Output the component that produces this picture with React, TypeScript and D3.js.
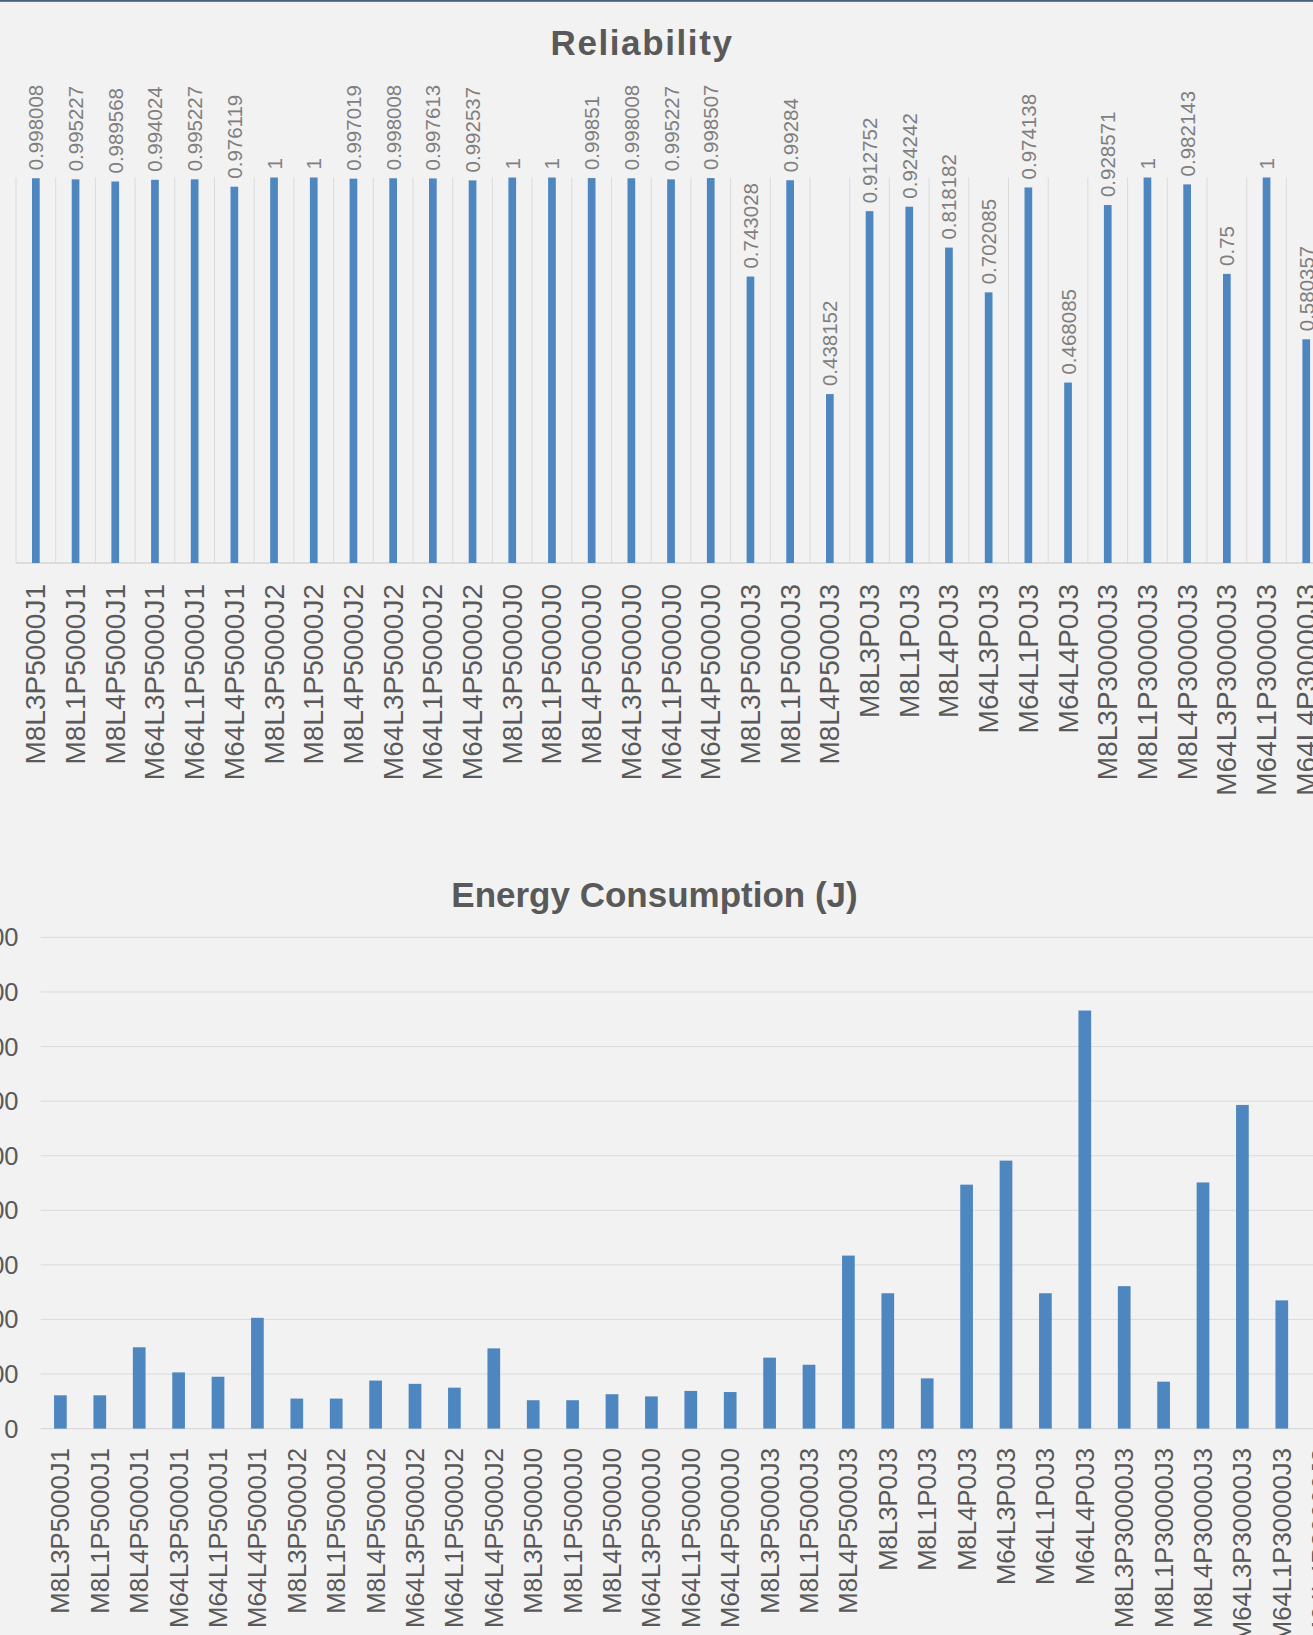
import React from "react";
import * as d3 from "d3";

const categories = [
  "M8L3P5000J1", "M8L1P5000J1", "M8L4P5000J1", "M64L3P5000J1", "M64L1P5000J1", "M64L4P5000J1",
  "M8L3P5000J2", "M8L1P5000J2", "M8L4P5000J2", "M64L3P5000J2", "M64L1P5000J2", "M64L4P5000J2",
  "M8L3P5000J0", "M8L1P5000J0", "M8L4P5000J0", "M64L3P5000J0", "M64L1P5000J0", "M64L4P5000J0",
  "M8L3P5000J3", "M8L1P5000J3", "M8L4P5000J3",
  "M8L3P0J3", "M8L1P0J3", "M8L4P0J3", "M64L3P0J3", "M64L1P0J3", "M64L4P0J3",
  "M8L3P30000J3", "M8L1P30000J3", "M8L4P30000J3", "M64L3P30000J3", "M64L1P30000J3", "M64L4P30000J3",
];

const reliability = [
  0.998008, 0.995227, 0.989568, 0.994024, 0.995227, 0.976119,
  1, 1, 0.997019, 0.998008, 0.997613, 0.992537,
  1, 1, 0.99851, 0.998008, 0.995227, 0.998507,
  0.743028, 0.99284, 0.438152,
  0.912752, 0.924242, 0.818182, 0.702085, 0.974138, 0.468085,
  0.928571, 1, 0.982143, 0.75, 1, 0.580357,
];

const energy = [
  61, 61, 149, 103, 95, 203,
  55, 55, 88, 82, 75, 147,
  52, 52, 63, 59, 69, 67,
  130, 117, 317,
  248, 92, 447, 491, 248, 766,
  261, 86, 451, 593, 235, 620,
];

const energyTicks = [0, 100, 200, 300, 400, 500, 600, 700, 800, 900];

const W = 1313;
const H = 1635;
const FONT = "'Liberation Sans', Arial, Helvetica, sans-serif";
const BAR = "#4e87bf";
const GRID = "#dadada";
const AXIS_TEXT = "#595959";

export default function App() {
  // Reliability chart scales
  const rStep = 39.7;
  const rX = d3.scaleBand<string>().domain(categories).range([16, 16 + rStep * categories.length]).padding(0);
  const rY = d3.scaleLinear().domain([0, 1]).range([563, 177.5]);
  const rBarW = 7.7;

  // Energy chart scales
  const eStep = 39.4;
  const eX = d3.scaleBand<string>().domain(categories).range([40.7, 40.7 + eStep * categories.length]).padding(0);
  const eY = d3.scaleLinear().domain([0, 900]).range([1428.6, 937.4]);
  const eBarW = 12.7;

  return (
    <svg
      width={W}
      height={H}
      style={{ position: "absolute", left: 0, top: 0, display: "block" }}
      fontFamily={FONT}
    >
      <rect x={0} y={0} width={W} height={H} fill="#f2f2f2" />
      <rect x={0} y={0} width={W} height={1.8} fill="#46627e" />

      {/* Reliability */}
      <text x={642} y={55} textAnchor="middle" fontSize={35} fontWeight="bold" fill={AXIS_TEXT} letterSpacing={1.6}>
        Reliability
      </text>
      {categories.map((c, i) => {
        const x0 = rX(c)!;
        return (
          <line key={"rg" + i} x1={x0} x2={x0} y1={rY(1)} y2={rY(0)} stroke={GRID} strokeWidth={1} />
        );
      })}
      <line x1={rX(categories[categories.length - 1])! + rX.bandwidth()} x2={rX(categories[categories.length - 1])! + rX.bandwidth()} y1={rY(1)} y2={rY(0)} stroke={GRID} />
      <line x1={16} x2={W} y1={rY(0)} y2={rY(0)} stroke="#d4d4d4" strokeWidth={1.3} />
      {categories.map((c, i) => {
        const cx = rX(c)! + rX.bandwidth() / 2;
        const v = reliability[i];
        return (
          <g key={"rb" + i}>
            <rect x={cx - rBarW / 2} y={rY(v)} width={rBarW} height={rY(0) - rY(v)} fill={BAR} />
            <text
              transform={`translate(${cx},${rY(v) - 8}) rotate(-90)`}
              textAnchor="start"
              dominantBaseline="central"
              fontSize={20.5}
              fill="#7f7f7f"
            >
              {String(v)}
            </text>
            <text
              transform={`translate(${cx},584) rotate(-90)`}
              textAnchor="end"
              dominantBaseline="central"
              fontSize={28}
              fill={AXIS_TEXT}
            >
              {c}
            </text>
          </g>
        );
      })}

      {/* Energy Consumption */}
      <text x={654.5} y={907} textAnchor="middle" fontSize={35} fontWeight="bold" fill={AXIS_TEXT}>
        Energy Consumption (J)
      </text>
      {energyTicks.map((t) => (
        <g key={"et" + t}>
          <line x1={40.7} x2={W} y1={eY(t)} y2={eY(t)} stroke={GRID} strokeWidth={t === 0 ? 1.3 : 1} />
          <text x={18.5} y={eY(t)} textAnchor="end" dominantBaseline="central" fontSize={25.5} fill={AXIS_TEXT}>
            {String(t)}
          </text>
        </g>
      ))}
      {categories.map((c, i) => {
        const cx = eX(c)! + eX.bandwidth() / 2;
        const v = energy[i];
        return (
          <g key={"eb" + i}>
            <rect x={cx - eBarW / 2} y={eY(v)} width={eBarW} height={eY(0) - eY(v)} fill={BAR} />
            <text
              transform={`translate(${cx},1448) rotate(-90)`}
              textAnchor="end"
              dominantBaseline="central"
              fontSize={25.7}
              fill={AXIS_TEXT}
            >
              {c}
            </text>
          </g>
        );
      })}
    </svg>
  );
}
